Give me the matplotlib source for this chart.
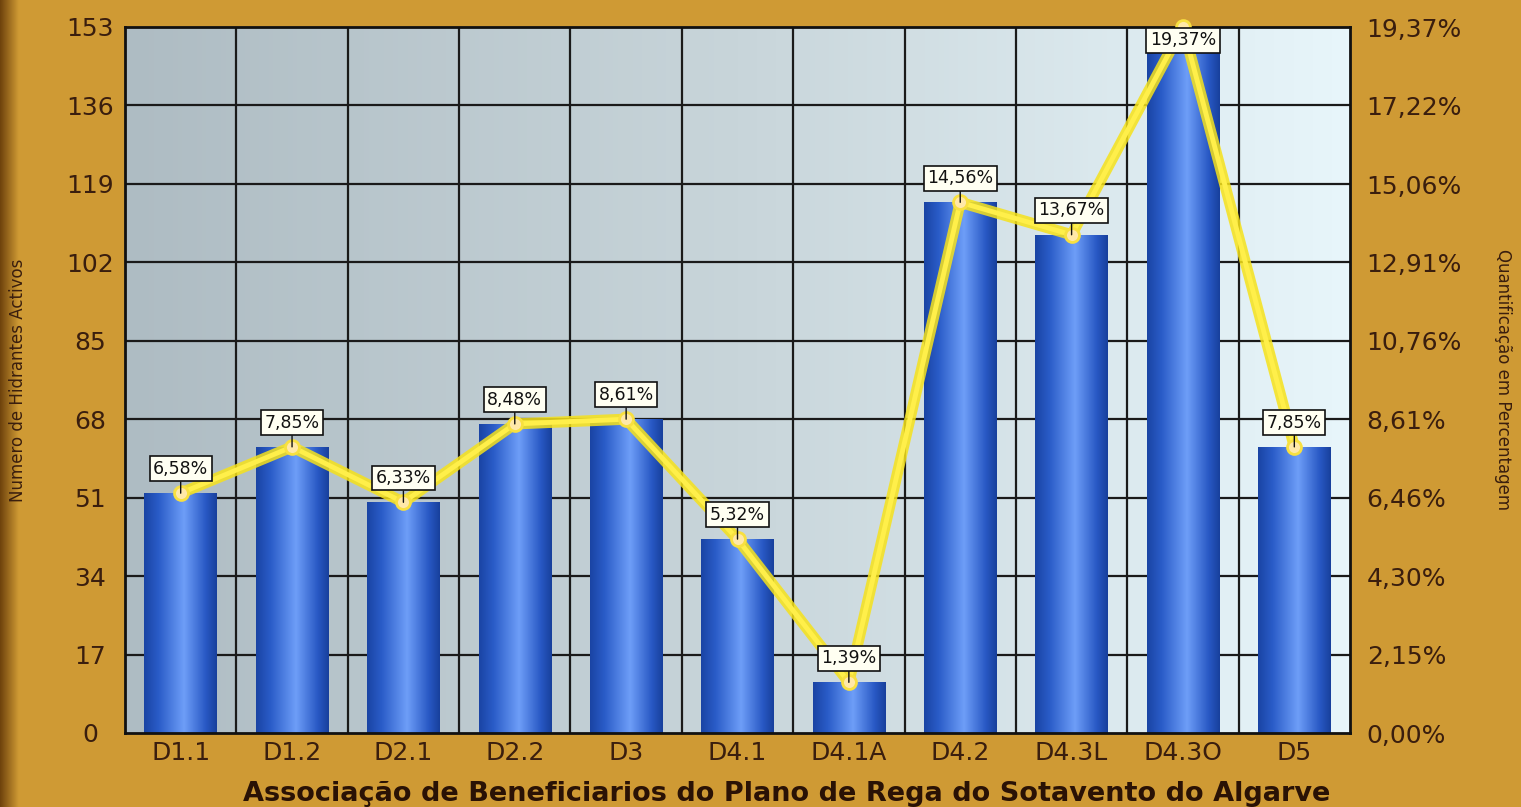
import numpy as np
import matplotlib
matplotlib.use("Agg")
import matplotlib.pyplot as plt
from matplotlib.colors import LinearSegmentedColormap

# data
categories = ["D1.1", "D1.2", "D2.1", "D2.2", "D3", "D4.1", "D4.1A",
              "D4.2", "D4.3L", "D4.3O", "D5"]
hidrantes = [52, 62, 50, 67, 68, 42, 11, 115, 108, 153, 62]
percent = [6.58, 7.85, 6.33, 8.48, 8.61, 5.32, 1.39, 14.56, 13.67, 19.37, 7.85]
left_ticks = [0, 17, 34, 51, 68, 85, 102, 119, 136, 153]
right_ticks = [0.00, 2.15, 4.30, 6.46, 8.61, 10.76, 12.91, 15.06, 17.22, 19.37]

gold = "#CF9A34"
txt = "#3A1E0E"

fig = plt.figure(figsize=(15.21, 8.07), dpi=100, facecolor=gold)

# dark strip on the left edge
strip = fig.add_axes([0, 0, 0.012, 1])
strip.imshow(np.linspace(0, 1, 50).reshape(1, -1), aspect="auto",
             cmap=LinearSegmentedColormap.from_list("s", ["#6E420C", gold]),
             extent=[0, 1, 0, 1])
strip.axis("off")

ax = fig.add_axes([125/1521, 1-733/807, (1350-125)/1521, (733-27)/807])
ax.set_xlim(-0.5, len(categories)-0.5)
ax.set_ylim(0, 153)

# plot area gradient
bg = LinearSegmentedColormap.from_list("bg", ["#AEBCC3", "#C8D5DA", "#E8F6FB"])
ax.imshow(np.linspace(0, 1, 256).reshape(1, -1), aspect="auto", cmap=bg,
          extent=[0, 1, 0, 1], transform=ax.transAxes, zorder=0)

# grid
for t in left_ticks[1:-1]:
    ax.axhline(t, color="#1A1A1A", lw=1.6, zorder=1)
for i in range(len(categories)-1):
    ax.axvline(i+0.5, color="#1A1A1A", lw=1.6, zorder=1)

# bars with a cylinder-like gradient
barcmap = LinearSegmentedColormap.from_list(
    "bar", [(0, "#1A44A4"), (0.2, "#2A5CC8"), (0.55, "#6E9EF8"), (0.85, "#2858C4"), (1, "#18409C")])
grad = np.linspace(0, 1, 256).reshape(1, -1)
w = 0.65
bars = ax.bar(range(len(categories)), hidrantes, width=w, color="none", zorder=2)
for b in bars:
    x0, y0 = b.get_x(), b.get_y()
    im = ax.imshow(grad, aspect="auto", cmap=barcmap,
                   extent=[x0, x0 + b.get_width(), y0, y0 + b.get_height()], zorder=2)
    im.set_clip_path(b)

ax.set_xticks(range(len(categories)))
ax.set_xticklabels(categories)
ax.set_yticks(left_ticks)
ax.tick_params(axis="both", length=0, labelsize=18, colors=txt)
ax.tick_params(axis="y", pad=25)
for lab in ax.get_yticklabels():
    lab.set_horizontalalignment("center")
ax.tick_params(axis="x", pad=6)
ax.set_ylabel("Numero de Hidrantes Activos", fontsize=12, color=txt)
ax.yaxis.set_label_coords(-0.080, 0.5)
ax.set_xlabel("Associação de Beneficiarios do Plano de Rega do Sotavento do Algarve",
              fontsize=19.5, fontweight="bold", color="#2A1205")
ax.xaxis.set_label_coords(0.540, -0.068)
for s in ax.spines.values():
    s.set_linewidth(2)
    s.set_color("#111111")

# percent line on the right axis
ax2 = ax.twinx()
ax2.set_ylim(0, 19.37)
ax2.set_yticks(right_ticks)
ax2.set_yticklabels([("%.2f%%" % v).replace(".", ",") for v in right_ticks])
ax2.tick_params(axis="y", length=0, labelsize=18, colors=txt, pad=12)
ax2.set_ylabel("Quantificação em Percentagem", fontsize=12, color=txt, rotation=-90, labelpad=36)
for s in ax2.spines.values():
    s.set_visible(False)

xs = np.arange(len(categories))
ax2.plot(xs, percent, color="#F6E21A", lw=8, solid_joinstyle="round", zorder=3,
         alpha=0.85, clip_on=False)
ax2.plot(xs, percent, color="#FFEF4A", lw=3.5, solid_joinstyle="round", zorder=4, clip_on=False)
ax2.plot(xs, percent, "o", ms=10, mfc="#FFE8A8", mec="#F8E040", mew=2, zorder=5, clip_on=False)

top = max(percent)
for x, p in zip(xs, percent):
    label = ("%.2f%%" % p).replace(".", ",")
    box = dict(boxstyle="square,pad=0.2", fc="#FFFFF2", ec="#111111", lw=1.2)
    if p == top:
        # no room above the top of the plot: the box sits inside it
        ax2.annotate(label, xy=(x, 1), xycoords=("data", "axes fraction"), xytext=(0, -3),
                     textcoords="offset points", ha="center", va="top",
                     fontsize=12.5, color="#111111", zorder=6, bbox=box)
    else:
        ax2.annotate(label, xy=(x, p), xytext=(0, 11),
                     textcoords="offset points", ha="center", va="bottom",
                     fontsize=12.5, color="#111111", zorder=6, bbox=box,
                     arrowprops=dict(arrowstyle="-", color="#111111", lw=1, shrinkA=0, shrinkB=0))

plt.savefig("out.png", dpi=100, facecolor=gold)
